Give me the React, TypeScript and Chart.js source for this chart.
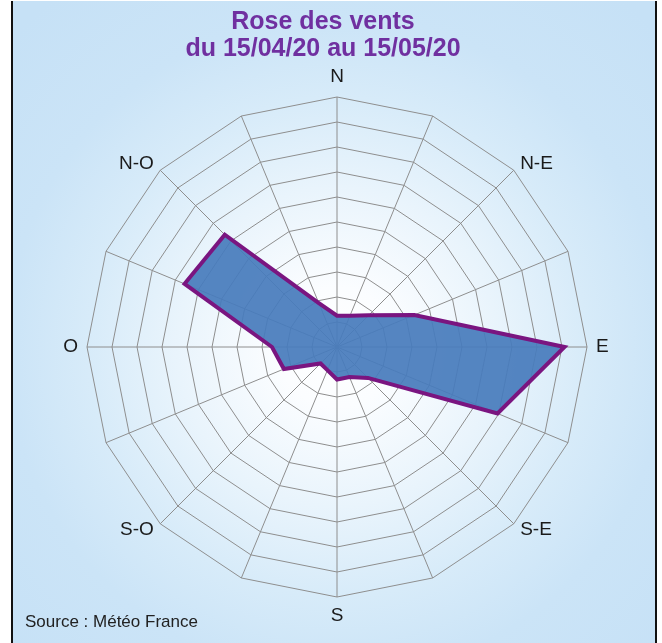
import React, { useEffect, useRef } from "react";
import { Chart, registerables } from "chart.js";

Chart.register(...registerables);

const directions = ["N", "NNE", "NE", "ENE", "E", "ESE", "SE", "SSE", "S", "SSO", "SO", "OSO", "O", "ONO", "NO", "NNO"];
const axisLabels = ["N", "", "N-E", "", "E", "", "S-E", "", "S", "", "S-O", "", "O", "", "N-O", ""];
const frequencies = [1.25, 1.35, 1.8, 3.35, 9.1, 6.95, 1.75, 1.3, 1.3, 1.0, 0.93, 2.3, 2.6, 6.6, 6.35, 1.9];
const scaleMin = 0;
const scaleMax = 10;
const scaleStep = 1;

const titleLines = ["Rose des vents", "du 15/04/20 au 15/05/20"];
const sourceText = "Source : Météo France";

const FONT = '"Liberation Sans", Arial, sans-serif';

const axisLabelPlugin = {
  id: "axisLabelPlugin",
  afterDraw(chart: any) {
    const scale = chart.scales.r;
    const ctx = chart.ctx;
    const labels: string[] = chart.data.labels;
    ctx.save();
    ctx.font = `19px ${FONT}`;
    ctx.fillStyle = "#1a1a1a";
    ctx.textBaseline = "middle";
    labels.forEach((label, i) => {
      if (!label) return;
      const p = scale.getPointPosition(i, scale.drawingArea + 9);
      const a = scale.getIndexAngle(i);
      const s = Math.sin(a);
      const c = Math.cos(a);
      let align: CanvasTextAlign = "center";
      if (s > 0.1) align = "left";
      else if (s < -0.1) align = "right";
      let y = p.y;
      if (Math.abs(s) < 0.1) y += c > 0 ? -11 : 10;
      ctx.textAlign = align;
      ctx.fillText(label, p.x, y);
    });
    ctx.restore();
  },
};

export default function App() {
  const canvasRef = useRef<HTMLCanvasElement | null>(null);

  useEffect(() => {
    if (!canvasRef.current) return;
    const chart = new Chart(canvasRef.current, {
      type: "radar",
      data: {
        labels: axisLabels,
        datasets: [
          {
            label: "Fréquence",
            data: frequencies,
            backgroundColor: "rgba(72,124,188,0.93)",
            borderColor: "#7A1580",
            borderWidth: 4,
            borderJoinStyle: "miter",
            pointRadius: 0,
            pointHoverRadius: 0,
            fill: true,
          },
        ],
      },
      options: {
        responsive: false,
        animation: false,
        devicePixelRatio: 1,
        layout: { padding: { left: 87, top: 97, right: 75, bottom: 46 } },
        plugins: {
          legend: { display: false },
          title: { display: false },
          tooltip: { enabled: false },
        },
        scales: {
          r: {
            min: scaleMin,
            max: scaleMax,
            beginAtZero: true,
            ticks: { display: false, stepSize: scaleStep },
            pointLabels: { display: false },
            grid: { circular: false, color: "#8e8e8e", lineWidth: 1 },
            angleLines: { display: true, color: "#8e8e8e", lineWidth: 1 },
          },
        },
      },
      plugins: [axisLabelPlugin],
    });
    return () => chart.destroy();
  }, []);

  return (
    <div style={{ position: "absolute", left: 0, top: 0, width: 662, height: 643, background: "#ffffff", overflow: "hidden" }}>
      <div
        style={{
          position: "absolute",
          left: 11,
          top: 1,
          width: 642,
          height: 650,
          borderLeft: "2px solid #111",
          borderRight: "2px solid #111",
          background:
            "radial-gradient(circle at 324px 346px, #ffffff 0px, #fbfdff 60px, #e9f4fc 160px, #d7ebf9 250px, #cbe4f7 330px, #c6e1f6 450px)",
        }}
      />
      <canvas
        ref={canvasRef}
        width={662}
        height={643}
        style={{ position: "absolute", left: 0, top: 0, width: 662, height: 643, display: "block" }}
      />
      <div
        style={{
          position: "absolute",
          left: 0,
          top: 7,
          width: 646,
          textAlign: "center",
          fontFamily: FONT,
          fontWeight: "bold",
          fontSize: 25,
          lineHeight: "27px",
          color: "#7030A0",
        }}
      >
        {titleLines.map((t) => (
          <div key={t}>{t}</div>
        ))}
      </div>
      <div
        style={{
          position: "absolute",
          left: 25,
          top: 612,
          fontFamily: FONT,
          fontSize: 17,
          lineHeight: "20px",
          color: "#222",
          whiteSpace: "nowrap",
        }}
      >
        {sourceText}
      </div>
    </div>
  );
}
